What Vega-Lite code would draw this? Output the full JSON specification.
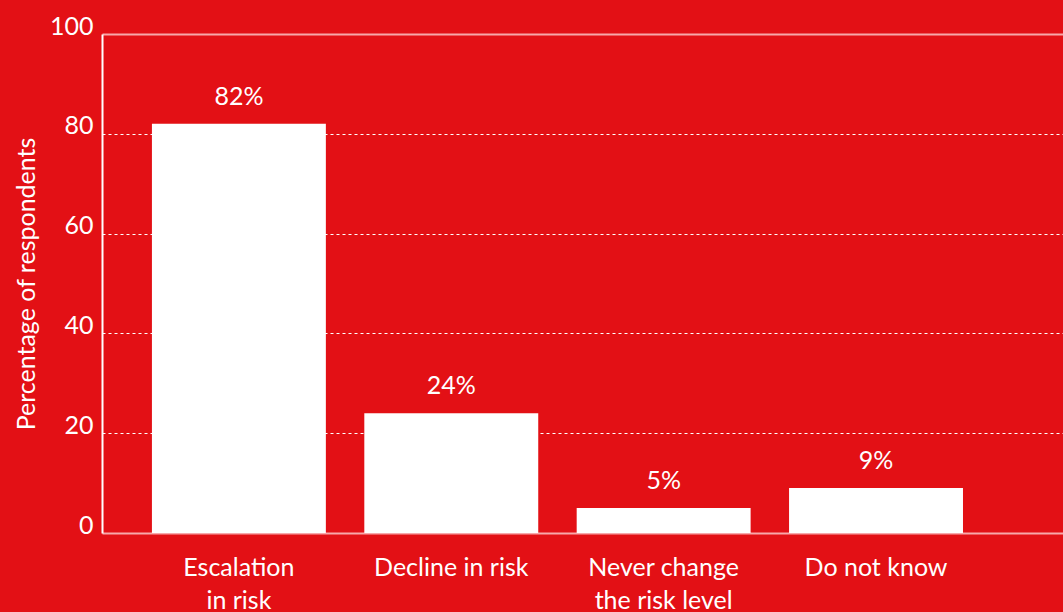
{
  "$schema": "https://vega.github.io/schema/vega-lite/v6.json",
  "autosize": {"type": "none"},
  "width": 961,
  "height": 499,
  "padding": {"left": 102, "top": 34, "right": 0, "bottom": 79},
  "background": "#E31015",
  "config": {
    "view": {"stroke": null},
    "font": "Lato",
    "axis": {"labelFont": "Lato", "titleFont": "Lato", "labelColor": "white", "titleColor": "white"}
  },
  "data": {
    "values": [
      {"category": "Escalation|in risk", "value": 82, "label": "82%"},
      {"category": "Decline in risk", "value": 24, "label": "24%"},
      {"category": "Never change|the risk level", "value": 5, "label": "5%"},
      {"category": "Do not know", "value": 9, "label": "9%"}
    ]
  },
  "encoding": {
    "x": {
      "field": "category",
      "type": "nominal",
      "sort": null,
      "scale": {"paddingInner": 0.181, "paddingOuter": 0.353, "align": 0.333},
      "axis": {
        "title": null,
        "labelAngle": 0,
        "labelExpr": "split(datum.label, '|')",
        "labelFontSize": 25,
        "labelFontWeight": 400,
        "labelLineHeight": 33,
        "labelPadding": 34,
        "labelBaseline": "middle",
        "ticks": false,
        "domain": true,
        "domainColor": "#F7A8AA",
        "domainWidth": 2,
        "grid": false
      }
    },
    "y": {
      "field": "value",
      "type": "quantitative",
      "scale": {"domain": [0, 100], "nice": false},
      "axis": {
        "title": "Percentage of respondents",
        "titleFontSize": 25,
        "titleFontWeight": 400,
        "titlePadding": 10,
        "values": [0, 20, 40, 60, 80, 100],
        "labelFontSize": 25,
        "labelFontWeight": 400,
        "labelPadding": 9,
        "labelOffset": -8,
        "ticks": false,
        "domain": true,
        "domainColor": "#FFFFFF",
        "domainWidth": 2,
        "grid": true,
        "gridColor": {"condition": {"test": "datum.value === 100", "value": "#F7A8AA"}, "value": "#FFFFFF"},
        "gridWidth": {"condition": {"test": "datum.value === 100", "value": 2}, "value": 1.2},
        "gridDash": {"condition": {"test": "datum.value === 100 || datum.value === 0", "value": []}, "value": [3, 3]},
        "gridOpacity": {"condition": {"test": "datum.value === 0", "value": 0}, "value": 1}
      }
    }
  },
  "layer": [
    {"mark": {"type": "bar", "color": "#FFFFFF"}},
    {
      "mark": {"type": "text", "color": "#FFFFFF", "fontSize": 25, "fontWeight": 400, "baseline": "middle", "dy": -27, "font": "Lato"},
      "encoding": {"text": {"field": "label", "type": "nominal"}}
    }
  ]
}
